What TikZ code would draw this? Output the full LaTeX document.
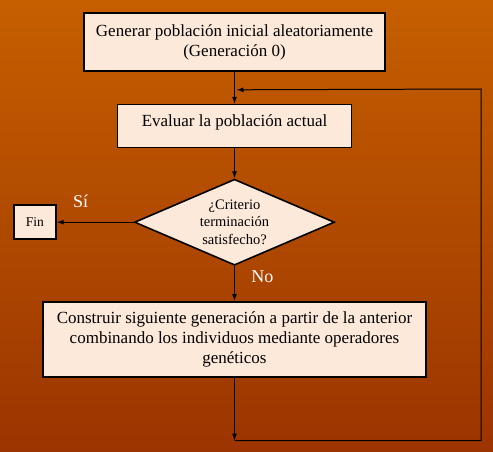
\documentclass[tikz,border=0pt]{standalone}
\usepackage{fontspec}
\setmainfont{Liberation Serif}
\usepackage{xcolor}
\usetikzlibrary{calc, positioning, shapes.geometric, arrows.meta}

\definecolor{bgtop}{RGB}{197,95,0}
\definecolor{bgbot}{RGB}{155,52,0}
\definecolor{boxfill}{RGB}{253,233,217}

\begin{document}
\begin{tikzpicture}[x = 1pt, y = 1pt,
box/.style = {draw, line width = 1.6pt, fill = boxfill, align = center, inner sep = 2pt, font = \fontsize{17}{20}\selectfont},
decision/.style = {draw, diamond, line width = 1.6pt, fill = boxfill, align = center, inner sep = 0pt, aspect = 2.33, minimum width = 200pt, minimum height = 86pt, font = \fontsize{14.5}{17.5}\selectfont},
link/.style = {line width = 1pt, -{Latex[length = 7pt, width = 5pt]}},
lbl/.style = {text = white, font = \fontsize{18}{20}\selectfont}]
\useasboundingbox (0,0) rectangle (493,-452);
\fill[top color = bgtop, bottom color = bgbot] (0,0) rectangle (493,-452);
\node[box, minimum width = 301pt, minimum height = 58pt] (gen) at (234.5,-42) {Generar población inicial aleatoriamente\\(Generación 0)};
\node[box, minimum width = 234pt, minimum height = 43pt, below = 32pt of gen] (eval) {\raisebox{4pt}[12pt][3pt]{Evaluar la población actual}};
\node[decision, below = 30pt of eval] (crit) {¿Criterio\\terminación\\satisfecho?};
\node[box, minimum width = 42pt, minimum height = 34pt, font = \fontsize{13.5}{16}\selectfont, left = 77pt of crit] (fin) {Fin};
\node[box, minimum width = 383pt, minimum height = 75pt, below = 35pt of crit] (constr) {Construir siguiente generación a partir de la anterior\\combinando los individuos mediante operadores\\genéticos};
\coordinate (lb) at ($(constr.south)+(0,-63)$);
\coordinate (rt) at (481,-89);
\coordinate (join) at ($(gen.south)+(2,-18)$);
\foreach \i/\j in {gen/eval, eval/crit}{
\draw[link] (\i) -- (\j);
}
\draw[link] (crit.west) -- node[lbl, pos = 0.69, above = 11pt] {Sí} (fin.east);
\draw[link] (crit.south) -- node[lbl, pos = 0.3, right = 13pt] {No} (constr.north);
\draw[link] (constr) -- (lb);
\draw[link] (lb) -| (rt) -- (join);
\end{tikzpicture}
\end{document}
